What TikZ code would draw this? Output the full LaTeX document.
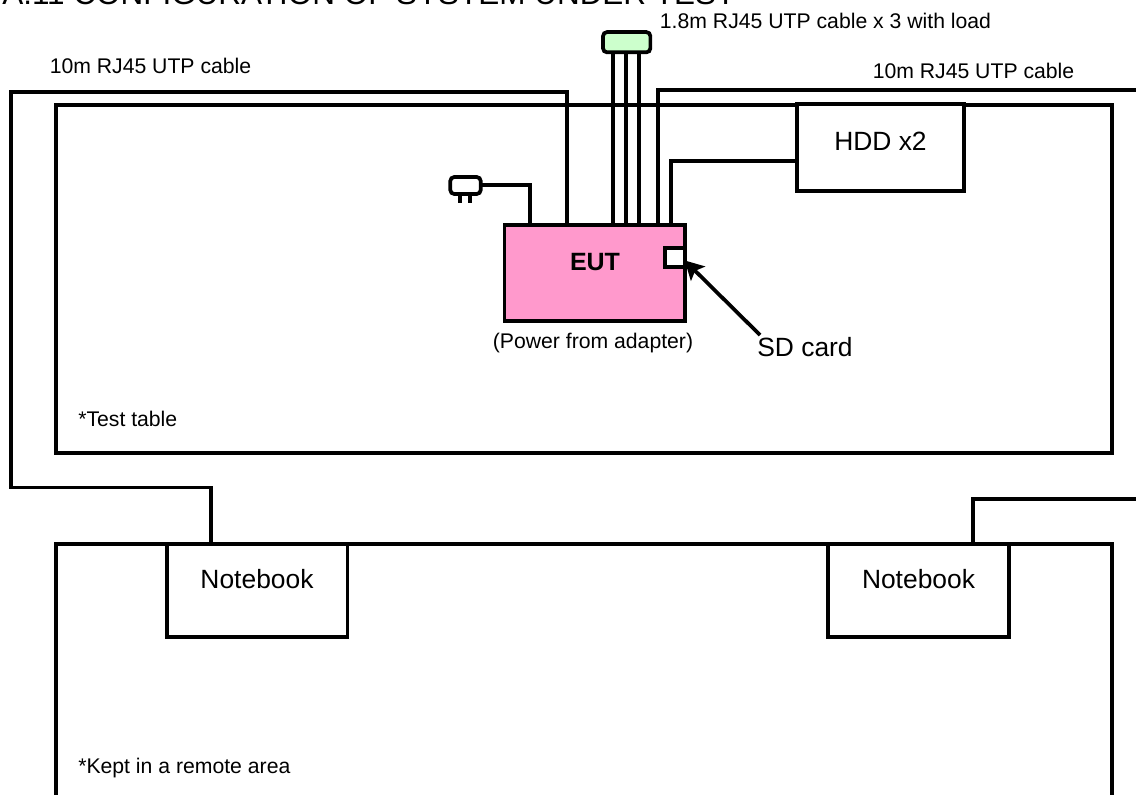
\documentclass[tikz,border=0pt]{standalone}
\usepackage{fontspec}
\setmainfont{Liberation Sans}
\usetikzlibrary{arrows,arrows.meta,positioning}
\definecolor{euti}{RGB}{255,153,204}
\definecolor{loadi}{RGB}{204,255,204}
\tikzset{>={Stealth[length=14pt,width=15pt,inset=3pt]},
         cable/.style={draw=black,line width=2.8pt},
         box/.style={rectangle,draw=black,line width=2.8pt,inner sep=0pt,outer sep=0pt},
         texto/.style={font=\fontsize{15.9pt}{18pt}\selectfont,inner sep=0pt},
         grande/.style={font=\fontsize{19.8pt}{22pt}\selectfont,inner sep=0pt}
        }
\begin{document}
\begin{tikzpicture}[x=0.75pt,y=-0.75pt]
  \useasboundingbox (0,0) rectangle (1136,794);
  \node[font=\fontsize{23.6pt}{26pt}\selectfont,inner sep=0pt,anchor=base west] (title) at (2,4) {A.11 CONFIGURATION OF SYSTEM UNDER TEST};

  \node[box,minimum width=792pt,minimum height=261pt] (table) at (584,279) {};
  \node[box,minimum width=792pt,minimum height=210pt] (remote) at (584,684) {};

  \node[box,fill=white,minimum width=125.25pt,minimum height=65.25pt] (hdd) at (880.5,147.5) {};
  \node[grande] (hddtext) at (880.5,141) {HDD x2};
  \node[box,fill=euti,minimum width=135.2pt,minimum height=71.8pt] (eut) at (594.6,273) {};
  \node[font=\fontsize{18.75pt}{20pt}\selectfont\bfseries,inner sep=0pt] (euttext) at (595,262) {EUT};
  \node[box,fill=white,minimum width=15pt,minimum height=14.25pt] (sd) at (674.7,257.8) {};
  \node[box,fill=loadi,rounded corners=3pt,minimum width=35.5pt,minimum height=15.2pt] (load) at (626.7,42.2) {};
  \node[box,rounded corners=3pt,minimum width=22.8pt,minimum height=12.75pt] (plug) at (465.5,185.5) {};

  \node[box,fill=white,minimum width=135.6pt,minimum height=69.75pt] (nbleft) at (257.1,590.2) {};
  \node[box,fill=white,minimum width=135.6pt,minimum height=69.75pt] (nbright) at (918.5,590.2) {};
  \node[grande] (nblefttext) at (257,579) {Notebook};
  \node[grande] (nbrighttext) at (918.5,579) {Notebook};

  \draw[cable] (eut.north -| 567,0) -- (567,92) -- (10.7,92) -- (10.7,487.5) -- (211,487.5) -- (nbleft.north -| 211,0);
  \draw[cable] (eut.north -| 658,0) -- (658,90) -- (1140,90);
  \draw[cable] (eut.north -| 671,0) -- (671,161) -- (hdd.west |- 0,161);
  \draw[cable] (eut.north -| 530,0) -- (530,185) -- (plug.east |- 0,185);
  \draw[cable] (nbright.north -| 973,0) -- (973,499) -- (1140,499);
  \draw[cable] (eut.north -| 613,0) -- (load.south -| 613,0);
  \draw[cable] (eut.north -| 626,0) -- (load.south -| 626,0);
  \draw[cable] (eut.north -| 639.3,0) -- (load.south -| 639.3,0);
  \draw[cable] (plug.south -| 460.3,0) -- (460.3,203);
  \draw[cable] (plug.south -| 470.3,0) -- (470.3,203);

  \node[texto] (cableleft) at (150.5,66) {10m RJ45 UTP cable};
  \node[texto] (cableright) at (973.5,71) {10m RJ45 UTP cable};
  \node[texto] (cableload) at (825.5,21) {1.8m RJ45 UTP cable x 3 with load};
  \node[texto] (power) at (593,343) {(Power from adapter)};
  \node[texto,anchor=west] (tabletext) at (78,419) {*Test table};
  \node[texto,anchor=west] (remotetext) at (78,768) {*Kept in a remote area};
  \node[grande] (sdtext) at (805,347) {SD card};
  \draw[->,line width=2.8pt] (sdtext.north west) ++(3,-2) coordinate (sdfoot) -- ([yshift=-2pt]sd.east);
\end{tikzpicture}
\end{document}
